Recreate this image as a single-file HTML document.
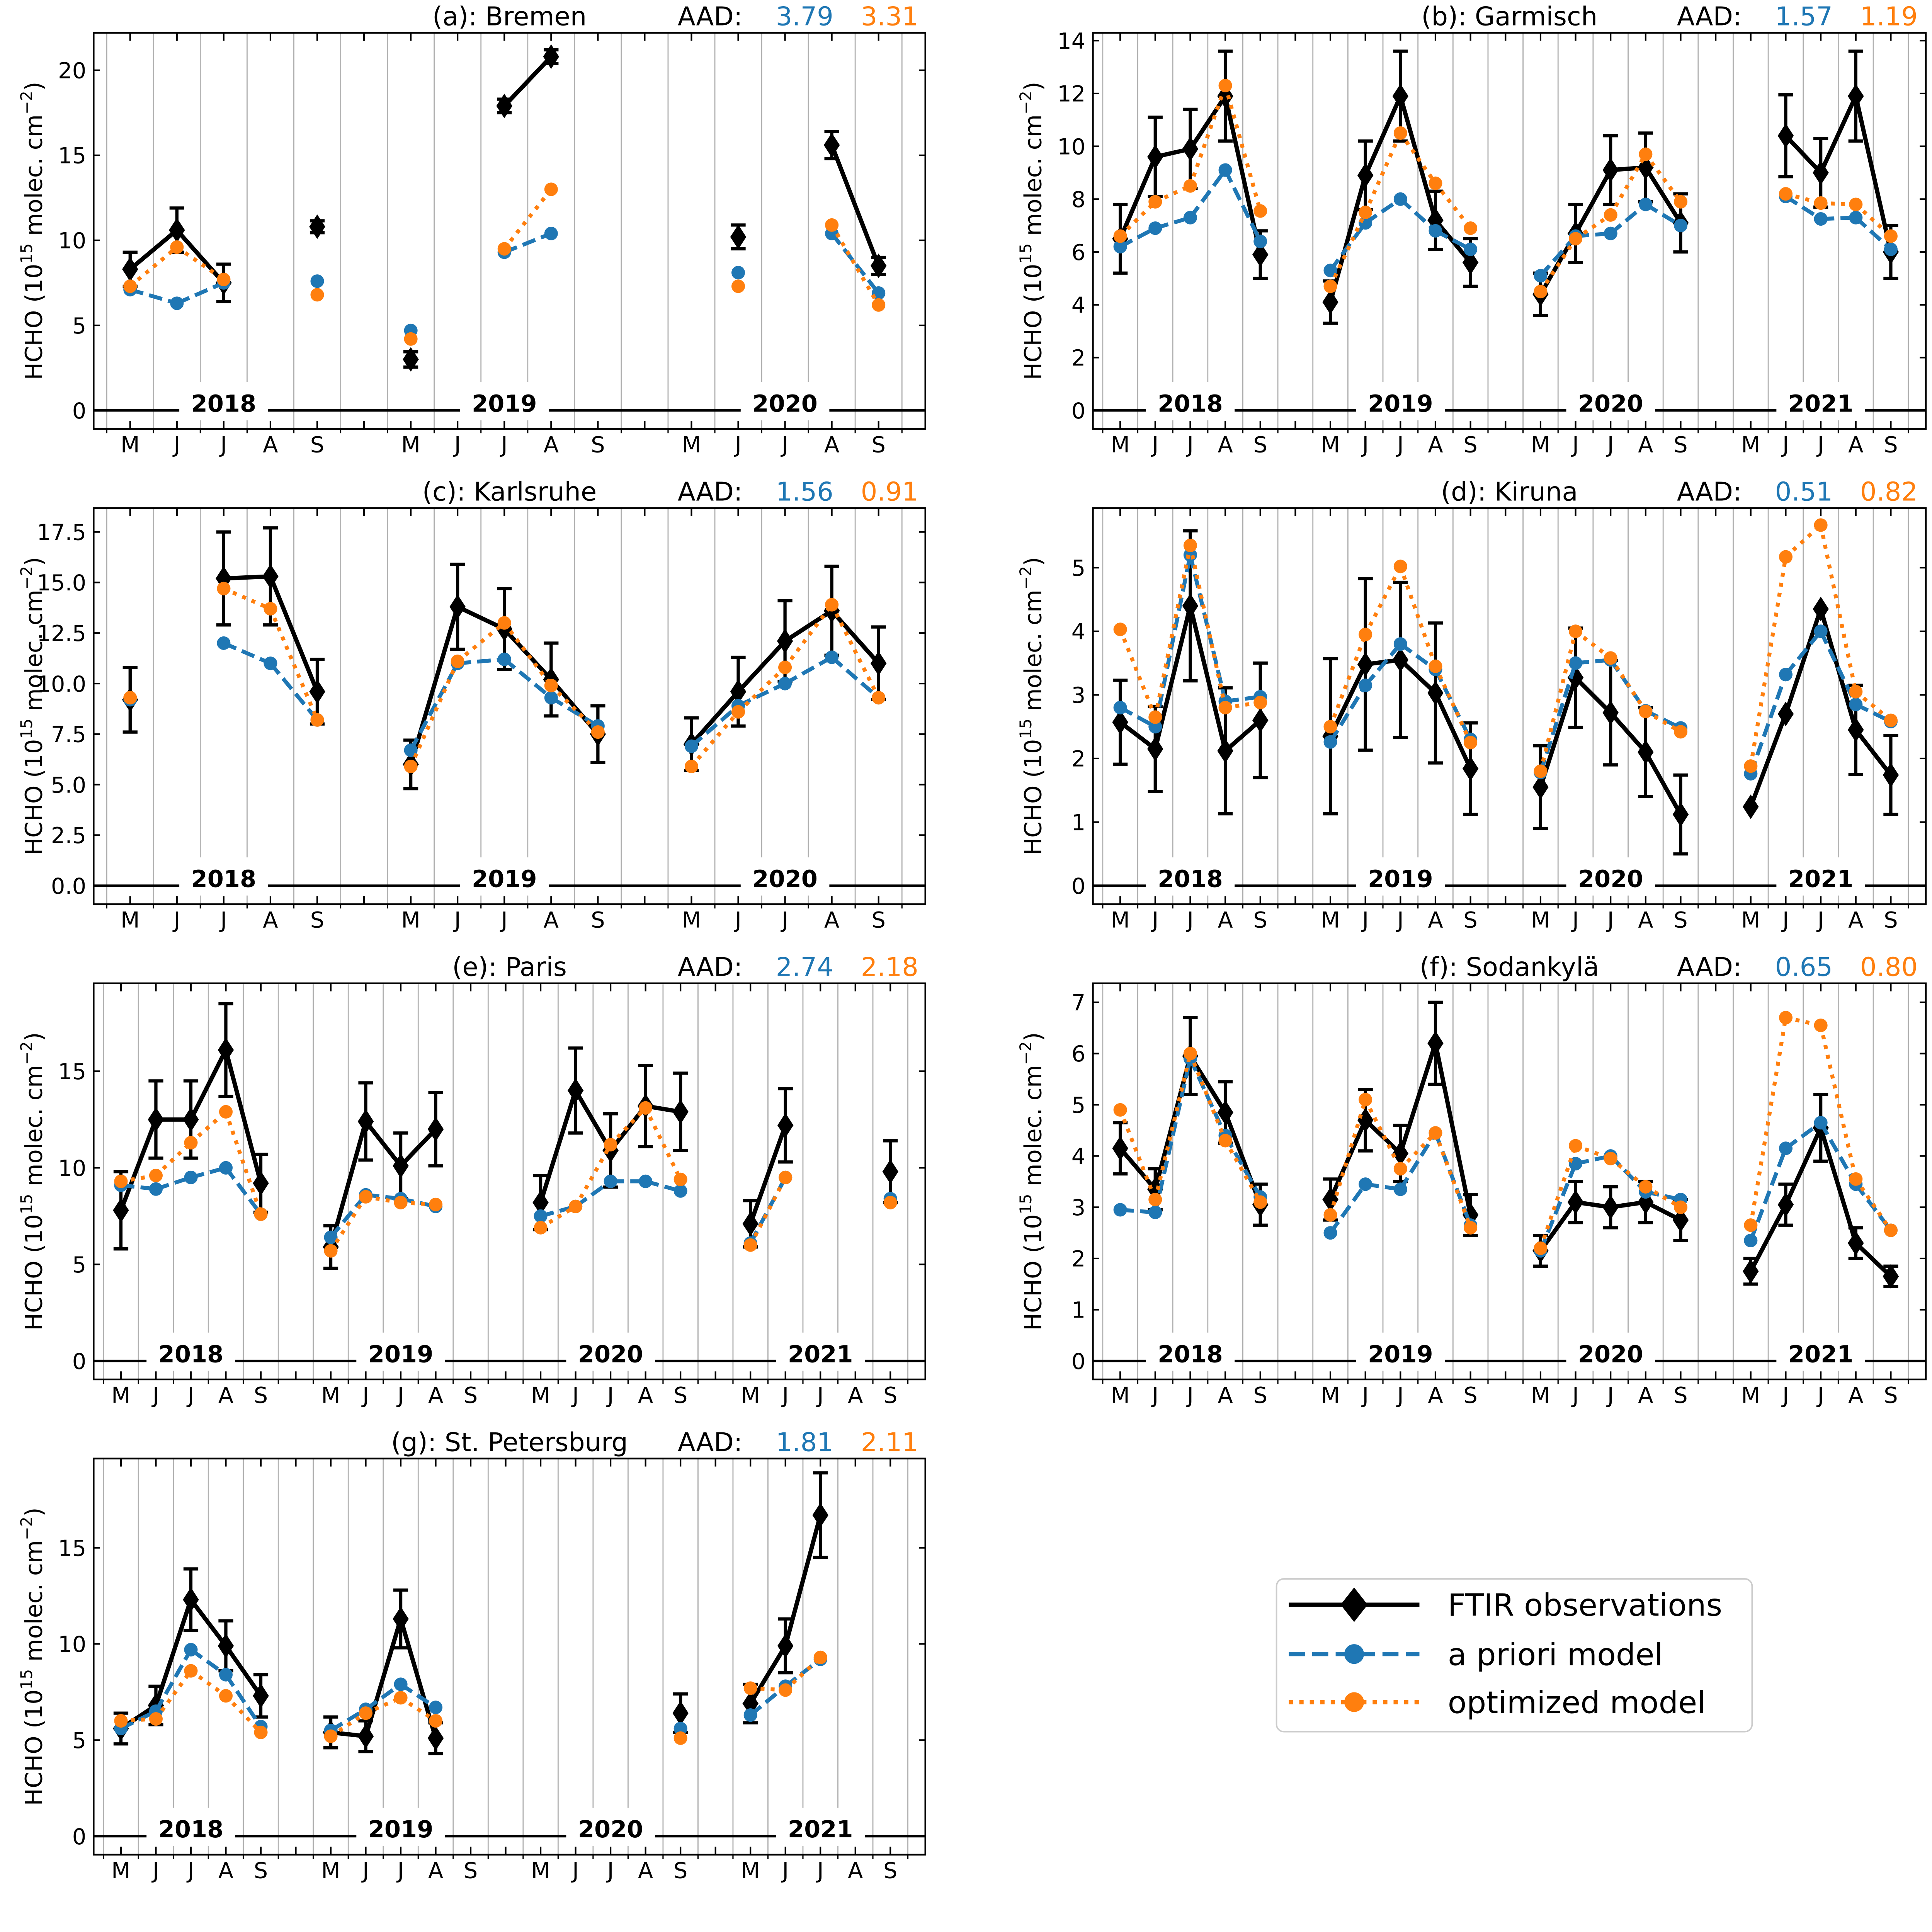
<!DOCTYPE html>
<html><head><meta charset="utf-8"><title>HCHO FTIR vs model</title>
<style>
html,body{margin:0;padding:0;background:#fff;overflow:hidden;}
svg{display:block;width:100vw;height:97.606vw;}
text{font-family:"DejaVu Sans","Liberation Sans",sans-serif;}
</style></head>
<body>
<svg id="fig" xmlns="http://www.w3.org/2000/svg" viewBox="0 0 1568 1530" preserveAspectRatio="none">
<rect x="0" y="0" width="1568" height="1530" fill="#fff"/>
<g id="legend">
  <rect x="1036" y="1281" width="386" height="124" rx="6" fill="#fff" stroke="#cccccc" stroke-width="1.2"/>
  <g>
    <line x1="1046" y1="1302" x2="1152" y2="1302" stroke="#000" stroke-width="3.5"/>
    <polygon points="1099,1288 1110,1302 1099,1316 1088,1302" fill="#000"/>
    <text x="1175" y="1311" font-size="25">FTIR observations</text>
  </g>
  <g>
    <line x1="1046" y1="1342" x2="1152" y2="1342" stroke="#1f77b4" stroke-width="3.5" stroke-dasharray="13,6"/>
    <circle cx="1099" cy="1342" r="8" fill="#1f77b4"/>
    <text x="1175" y="1351" font-size="25">a priori model</text>
  </g>
  <g>
    <line x1="1046" y1="1381" x2="1152" y2="1381" stroke="#ff7f0e" stroke-width="3.5" stroke-dasharray="3.5,5"/>
    <circle cx="1099" cy="1381" r="8" fill="#ff7f0e"/>
    <text x="1175" y="1390" font-size="25">optimized model</text>
  </g>
</g>
</svg>
<script>
const months = ['M','J','J','A','S'];

const bremenYears = [2018,2019,2020];
const bremenFtir = [[8.3,10.6,7.5,null,10.8],[3.0,null,17.9,20.8,null],[null,10.2,null,15.6,8.5]];
const bremenErr  = [[1.0,1.3,1.1,null,0.35],[0.45,null,0.4,0.4,null],[null,0.7,null,0.8,0.5]];
const bremenApr  = [[7.1,6.3,7.5,null,7.6],[4.7,null,9.3,10.4,null],[null,8.1,null,10.4,6.9]];
const bremenOpt  = [[7.3,9.6,7.7,null,6.8],[4.2,null,9.5,13.0,null],[null,7.3,null,10.9,6.2]];
const bremenTicks = [0,5,10,15,20];

const garYears = [2018,2019,2020,2021];
const garFtir = [[6.5,9.6,9.9,11.9,5.9],[4.1,8.9,11.9,7.2,5.6],[4.4,6.7,9.1,9.2,7.1],[null,10.4,9.0,11.9,6.0]];
const garErr  = [[1.3,1.5,1.5,1.7,0.9],[0.8,1.3,1.7,1.1,0.9],[0.8,1.1,1.3,1.3,1.1],[null,1.55,1.3,1.7,1.0]];
const garApr  = [[6.2,6.9,7.3,9.1,6.4],[5.3,7.1,8.0,6.8,6.1],[5.1,6.6,6.7,7.8,7.0],[null,8.1,7.25,7.3,6.1]];
const garOpt  = [[6.6,7.9,8.5,12.3,7.55],[4.7,7.5,10.5,8.6,6.9],[4.5,6.5,7.4,9.7,7.9],[null,8.2,7.85,7.8,6.6]];
const garTicks = [0,2,4,6,8,10,12,14];

const karYears = [2018,2019,2020];
const karFtir = [[9.2,null,15.2,15.3,9.6],[6.0,13.8,12.7,10.2,7.5],[7.0,9.6,12.1,13.6,11.0]];
const karErr  = [[1.6,null,2.3,2.4,1.6],[1.2,2.1,2.0,1.8,1.4],[1.3,1.7,2.0,2.2,1.8]];
const karApr  = [[9.2,null,12.0,11.0,8.2],[6.7,11.0,11.2,9.3,7.9],[6.9,8.9,10.0,11.3,9.3]];
const karOpt  = [[9.3,null,14.7,13.7,8.2],[5.9,11.1,13.0,9.9,7.6],[5.9,8.6,10.8,13.9,9.3]];
const karTicks = [0,2.5,5,7.5,10,12.5,15,17.5];

const kirYears = [2018,2019,2020,2021];
const kirFtir = [[2.57,2.15,4.4,2.12,2.6],[2.35,3.48,3.55,3.03,1.84],[1.55,3.27,2.72,2.1,1.12],[1.24,2.7,4.35,2.45,1.74]];
const kirErr  = [[0.66,0.67,1.18,0.99,0.9],[1.22,1.35,1.22,1.1,0.72],[0.65,0.78,0.82,0.7,0.62],[0,0,0,0.7,0.62]];
const kirApr  = [[2.8,2.5,5.2,2.9,2.97],[2.26,3.15,3.8,3.4,2.3],[1.78,3.5,3.55,2.75,2.48],[1.76,3.32,4.0,2.85,2.58]];
const kirOpt  = [[4.03,2.65,5.35,2.8,2.88],[2.5,3.95,5.02,3.45,2.25],[1.8,4.0,3.58,2.74,2.42],[1.88,5.17,5.67,3.05,2.6]];
const kirTicks = [0,1,2,3,4,5];

const parYears = [2018,2019,2020,2021];
const parFtir = [[7.8,12.5,12.5,16.1,9.2],[5.9,12.4,10.1,12.0,null],[8.2,14.0,10.9,13.2,12.9],[7.1,12.2,null,null,9.8]];
const parErr  = [[2.0,2.0,2.0,2.4,1.5],[1.1,2.0,1.7,1.9,null],[1.4,2.2,1.9,2.1,2.0],[1.2,1.9,null,null,1.6]];
const parApr  = [[9.1,8.9,9.5,10.0,7.6],[6.4,8.6,8.4,8.0,null],[7.5,8.0,9.3,9.3,8.8],[6.1,9.5,null,null,8.4]];
const parOpt  = [[9.3,9.6,11.3,12.9,7.6],[5.7,8.5,8.2,8.1,null],[6.9,8.0,11.2,13.1,9.4],[6.0,9.5,null,null,8.2]];
const parTicks = [0,5,10,15];

const sodYears = [2018,2019,2020,2021];
const sodFtir = [[4.15,3.35,5.95,4.85,3.05],[3.15,4.7,4.05,6.2,2.85],[2.15,3.1,3.0,3.1,2.75],[1.75,3.05,4.55,2.3,1.65]];
const sodErr  = [[0.5,0.4,0.75,0.6,0.4],[0.4,0.6,0.55,0.8,0.4],[0.3,0.4,0.4,0.4,0.4],[0.25,0.4,0.65,0.3,0.2]];
const sodApr  = [[2.95,2.9,5.9,4.4,3.2],[2.5,3.45,3.35,4.45,2.65],[2.15,3.85,4.0,3.3,3.15],[2.35,4.15,4.65,3.45,2.55]];
const sodOpt  = [[4.9,3.15,6.0,4.3,3.1],[2.85,5.1,3.75,4.45,2.6],[2.2,4.2,3.95,3.4,3.0],[2.65,6.7,6.55,3.55,2.55]];
const sodTicks = [0,1,2,3,4,5,6,7];

const stpYears = [2018,2019,2020,2021];
const stpFtir = [[5.6,6.8,12.3,9.9,7.3],[5.4,5.2,11.3,5.1,null],[null,null,null,null,6.4],[6.9,9.9,16.7,null,null]];
const stpErr  = [[0.8,1.0,1.6,1.3,1.1],[0.8,0.8,1.5,0.8,null],[null,null,null,null,1.0],[1.0,1.4,2.2,null,null]];
const stpApr  = [[5.6,6.5,9.7,8.4,5.7],[5.5,6.6,7.9,6.7,null],[null,null,null,null,5.6],[6.3,7.8,9.2,null,null]];
const stpOpt  = [[6.0,6.1,8.6,7.3,5.4],[5.2,6.4,7.2,6.0,null],[null,null,null,null,5.1],[7.7,7.6,9.3,null,null]];
const stpTicks = [0,5,10,15];

const panels = [
 {id:'bremen', title:'(a): Bremen', aad:['3.79','3.31'], col:0,row:0, years:bremenYears, ftir:bremenFtir, err:bremenErr, apr:bremenApr, opt:bremenOpt, ticks:bremenTicks, scale:13.8, dec:0},
 {id:'garmisch', title:'(b): Garmisch', aad:['1.57','1.19'], col:1,row:0, years:garYears, ftir:garFtir, err:garErr, apr:garApr, opt:garOpt, ticks:garTicks, scale:21.43, dec:0},
 {id:'karlsruhe', title:'(c): Karlsruhe', aad:['1.56','0.91'], col:0,row:1, years:karYears, ftir:karFtir, err:karErr, apr:karApr, opt:karOpt, ticks:karTicks, scale:16.4, dec:1},
 {id:'kiruna', title:'(d): Kiruna', aad:['0.51','0.82'], col:1,row:1, years:kirYears, ftir:kirFtir, err:kirErr, apr:kirApr, opt:kirOpt, ticks:kirTicks, scale:51.6, dec:0},
 {id:'paris', title:'(e): Paris', aad:['2.74','2.18'], col:0,row:2, years:parYears, ftir:parFtir, err:parErr, apr:parApr, opt:parOpt, ticks:parTicks, scale:15.67, dec:0},
 {id:'sodankyla', title:'(f): Sodankylä', aad:['0.65','0.80'], col:1,row:2, years:sodYears, ftir:sodFtir, err:sodErr, apr:sodApr, opt:sodOpt, ticks:sodTicks, scale:41.57, dec:0},
 {id:'st-petersburg', title:'(g): St. Petersburg', aad:['1.81','2.11'], col:0,row:3, years:stpYears, ftir:stpFtir, err:stpErr, apr:stpApr, opt:stpOpt, ticks:stpTicks, scale:15.6, dec:0}
];

const NS='http://www.w3.org/2000/svg';
const svg=document.getElementById('fig');
const legendEl=document.getElementById('legend');
function mk(tag, attrs, parent){
  const e=document.createElementNS(NS,tag);
  for(const k in attrs) e.setAttribute(k, attrs[k]);
  (parent||svg).appendChild(e);
  return e;
}

panels.forEach(function(p){
  const L = p.col ? 887 : 76, R = p.col ? 1563 : 751;
  const T = 26.6 + p.row*385.6, B = 348 + p.row*385.6;
  const y0 = 333 + p.row*385.6;
  const ny = p.years.length;
  const nslots = 6*(ny-1)+5;
  const step = (R-L)/(nslots-1+1.78);
  const x0 = L + 0.78*step;
  const xOf = function(yi,m){ return x0 + (yi*6+m)*step; };
  const yOf = function(v){ return y0 - v*p.scale; };

  const g = mk('g',{}, svg);
  
  
  svg.insertBefore(g, legendEl);

  for(let k=0;k<=nslots;k++){
    const gx = x0 + (k-0.5)*step;
    if(gx<=L+0.5||gx>=R-0.5) continue;
    const gl = mk('line',{x1:gx,y1:T,x2:gx,y2:B,stroke:'#b0b0b0','stroke-width':0.9},g);
    
    
    const mt = mk('line',{x1:gx,y1:B,x2:gx,y2:B+3.5,stroke:'#000','stroke-width':1},g);
    
    
  }
  const zl = mk('line',{x1:L,y1:y0,x2:R,y2:y0,stroke:'#000','stroke-width':2},g);
  
  
  p.years.forEach(function(yr,yi){
    const cx = xOf(yi,2);
    const wr = mk('rect',{x:cx-36,y:y0-23,width:72,height:31,fill:'#fff'},g);
    
    
    const t = mk('text',{x:cx,y:y0+1,'font-size':19,'font-weight':'bold','text-anchor':'middle'},g);
    t.textContent = yr;
    
    
  });
  for(let k=0;k<nslots;k++){
    const tx = x0 + k*step;
    const tb = mk('line',{x1:tx,y1:B,x2:tx,y2:B-6.5,stroke:'#000','stroke-width':1.3},g);
    
    
    const tt = mk('line',{x1:tx,y1:T,x2:tx,y2:T+6.5,stroke:'#000','stroke-width':1.3},g);
    
    
    if(k%6<5){
      const lab = mk('text',{x:tx,y:B+19,'font-size':18,'text-anchor':'middle'},g);
      lab.textContent = months[k%6];
      
      
    }
  }
  p.ticks.forEach(function(v){
    const ty = yOf(v);
    const a = mk('line',{x1:L,y1:ty,x2:L+5,y2:ty,stroke:'#000','stroke-width':1.3},g);
    
    
    const b = mk('line',{x1:R,y1:ty,x2:R-5,y2:ty,stroke:'#000','stroke-width':1.3},g);
    
    
    const lab = mk('text',{x:L-6,y:ty+6.5,'font-size':18,'text-anchor':'end'},g);
    lab.textContent = v.toFixed(p.dec);
    
    
  });
  const yl = mk('text',{x:0,y:0,'font-size':19,'text-anchor':'middle',transform:'translate('+(L-42)+','+((T+B)/2)+') rotate(-90)'},g);
  
  
  yl.innerHTML = 'HCHO (10<tspan dy="-8" font-size="13">15</tspan><tspan dy="8"> molec. cm</tspan><tspan dy="-8" font-size="13">−2</tspan><tspan dy="8">)</tspan>';
  const ti = mk('text',{x:(L+R)/2,y:T-6,'font-size':21,'text-anchor':'middle'},g);
  ti.textContent = p.title;
  
  
  const aa = mk('text',{x:L+474,y:T-6,'font-size':21},g);
  aa.textContent = 'AAD:';
  
  
  const a1 = mk('text',{x:L+577,y:T-6,'font-size':21,'text-anchor':'middle',fill:'#1f77b4'},g);
  a1.textContent = p.aad[0];
  
  
  const a2 = mk('text',{x:L+646,y:T-6,'font-size':21,'text-anchor':'middle',fill:'#ff7f0e'},g);
  a2.textContent = p.aad[1];
  
  

  function drawLines(arr, style, name){
    arr.forEach(function(yv,yi){
      for(let m=0;m<4;m++){
        if(yv[m]!=null && yv[m+1]!=null){
          const ln = mk('line',Object.assign({x1:xOf(yi,m),y1:yOf(yv[m]),x2:xOf(yi,m+1),y2:yOf(yv[m+1])},style),g);
          
          
        }
      }
    });
  }
  drawLines(p.ftir,{stroke:'#000','stroke-width':3.5,'stroke-linecap':'butt'},'ftir-line-segment');
  p.ftir.forEach(function(yv,yi){
    yv.forEach(function(v,m){
      if(v==null) return;
      const cx=xOf(yi,m), cy=yOf(v);
      const e=p.err[yi][m]||0;
      if(e>0){
        const eb = mk('path',{d:'M'+cx+','+yOf(v-e)+'V'+yOf(v+e)+'M'+(cx-6)+','+yOf(v-e)+'H'+(cx+6)+'M'+(cx-6)+','+yOf(v+e)+'H'+(cx+6),stroke:'#000','stroke-width':2.6,fill:'none'},g);
        
        
      }
      const d = mk('polygon',{points:cx+','+(cy-10)+' '+(cx+6.5)+','+cy+' '+cx+','+(cy+10)+' '+(cx-6.5)+','+cy,fill:'#000'},g);
      
      
    });
  });
  drawLines(p.apr,{stroke:'#1f77b4','stroke-width':3.2,'stroke-dasharray':'11,5'},'apriori-line-segment');
  p.apr.forEach(function(yv,yi){ yv.forEach(function(v,m){
    if(v==null) return;
    const c = mk('circle',{cx:xOf(yi,m),cy:yOf(v),r:5.5,fill:'#1f77b4'},g);
    
    
  });});
  drawLines(p.opt,{stroke:'#ff7f0e','stroke-width':3.2,'stroke-dasharray':'3.2,5'},'optimized-line-segment');
  p.opt.forEach(function(yv,yi){ yv.forEach(function(v,m){
    if(v==null) return;
    const c = mk('circle',{cx:xOf(yi,m),cy:yOf(v),r:5.5,fill:'#ff7f0e'},g);
    
    
  });});
  const fr = mk('rect',{x:L,y:T,width:R-L,height:B-T,fill:'none',stroke:'#000','stroke-width':1.4},g);
  
  
});
</script>
</body></html>
